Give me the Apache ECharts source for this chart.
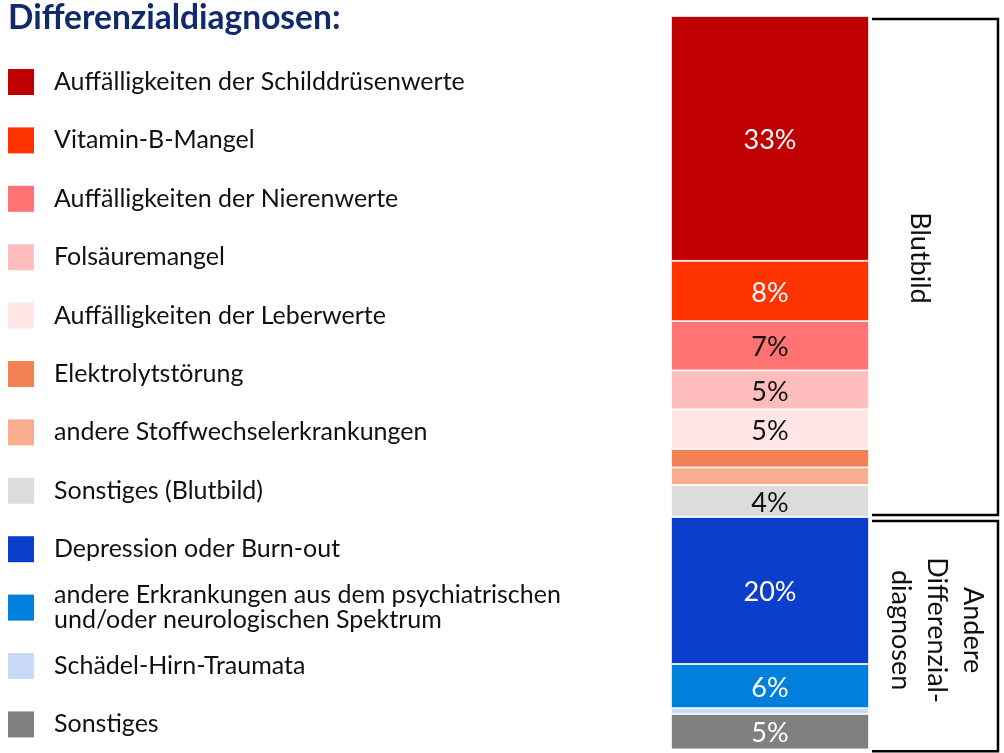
<!DOCTYPE html>
<html>
<head>
<meta charset="utf-8">
<script src="https://cdn.jsdelivr.net/npm/echarts@6/dist/echarts.min.js"></script>
<style>
html,body{margin:0;padding:0;background:#fff;}
#c{width:1004px;height:753px;}
</style>
</head>
<body>
<div id="c"></div>
<script>
// ---- data ----
const categories = [
  'Auffälligkeiten der Schilddrüsenwerte',
  'Vitamin-B-Mangel',
  'Auffälligkeiten der Nierenwerte',
  'Folsäuremangel',
  'Auffälligkeiten der Leberwerte',
  'Elektrolytstörung',
  'andere Stoffwechselerkrankungen',
  'Sonstiges (Blutbild)',
  'Depression oder Burn-out',
  'andere Erkrankungen aus dem psychiatrischen\nund/oder neurologischen Spektrum',
  'Schädel-Hirn-Traumata',
  'Sonstiges'
];
const values = [33.3, 8.2, 6.7, 5.3, 5.4, 2.5, 2.4, 4.35, 20, 6, 0.8, 4.8];
const groupNames = ['Blutbild', 'Andere\nDifferenzial-\ndiagnosen'];
const groupSizes = [8, 4];
const titleText = 'Differenzialdiagnosen:';

// ---- styles ----
const palette = ['#C00000','#FF3300','#FF7373','#FFBDBD','#FFE5E5','#F38154','#F8AE8E',
                 '#DCDCDC','#0C3ECC','#0080DD','#C9DAF8','#808080'];
const whiteLabel = [true,true,false,false,false,false,false,false,true,true,true,true];
const FONT = 'Lato, "Open Sans", sans-serif';

const total = values.reduce((a,b)=>a+b,0);

const series = categories.map((name,i)=>({
  name: name,
  type: 'bar',
  stack: 'all',
  barWidth: '100%',
  data: [values[i]],
  itemStyle: {color: palette[i], borderColor:'#fff', borderWidth:0.8},
  label: {
    show: values[i] >= 3,
    position: 'inside',
    offset: [0, 2],
    formatter: p => Math.round(p.value) + '%',
    color: whiteLabel[i] ? '#fff' : '#111',
    fontFamily: FONT,
    fontSize: 27
  },
  emphasis:{disabled:true}
}));

const legends = categories.map((name,i)=>{
  const twoLine = name.indexOf('\n') >= 0;
  const lh = twoLine ? 25 : 26;
  const boxH = twoLine ? 50 : 26;
  return {
    data:[name],
    orient:'vertical',
    left: 8,
    top: 69 + i*58.4 + 13 - boxH/2,
    itemWidth: 26,
    itemHeight: 26,
    icon: 'rect',
    selectedMode: false,
    padding: 0,
    itemStyle: {borderWidth: 0},
    textStyle: {fontFamily: FONT, fontSize: 25, color:'#111', lineHeight: lh, padding:[0,0,0,15]}
  };
});

const chart = echarts.init(document.getElementById('c'), null, {renderer:'canvas'});
chart.setOption({
  animation:false,
  backgroundColor:'#fff',
  title:{text:titleText, left:8, top:1, padding:0,
    textStyle:{fontFamily:FONT, fontSize:33.5, fontWeight:'bold', color:'#102A6B'}},
  legend: legends,
  grid:{left:671, width:198, top:16, bottom:3.7, containLabel:false},
  xAxis:{type:'category', data:[''], show:false},
  yAxis:{type:'value', inverse:true, min:0, max:total, show:false},
  series: series
});

// group brackets derived from the bar scale
const graphics = [];
let startIdx = 0;
let start = 0;
const xL = 872, xR = 998;
const textShift = [[-15,-9],[2,-6]];
groupSizes.forEach((n,g)=>{
  const end = start + values.slice(startIdx, startIdx+n).reduce((a,b)=>a+b,0);
  let y0 = chart.convertToPixel({yAxisIndex:0}, start);
  let y1 = chart.convertToPixel({yAxisIndex:0}, end);
  if (g === 0) { y0 += 3; y1 -= 2; } else { y0 += 4; y1 += 2; }
  graphics.push({
    type:'polyline', silent:true,
    shape:{points:[[xL,y0],[xR,y0],[xR,y1],[xL,y1]]},
    style:{stroke:'#000', lineWidth:2.5, fill:null, lineJoin:'miter'}
  });
  graphics.push({
    type:'text', silent:true,
    x: (xL+xR)/2 + textShift[g][0], y: (y0+y1)/2 + textShift[g][1],
    rotation: -Math.PI/2,
    style:{text:groupNames[g], fontFamily:FONT, fontSize:27, fill:'#111',
      align:'center', verticalAlign:'middle', lineHeight:36}
  });
  startIdx += n;
  start = end;
});
chart.setOption({graphic: graphics});
</script>
</body>
</html>
